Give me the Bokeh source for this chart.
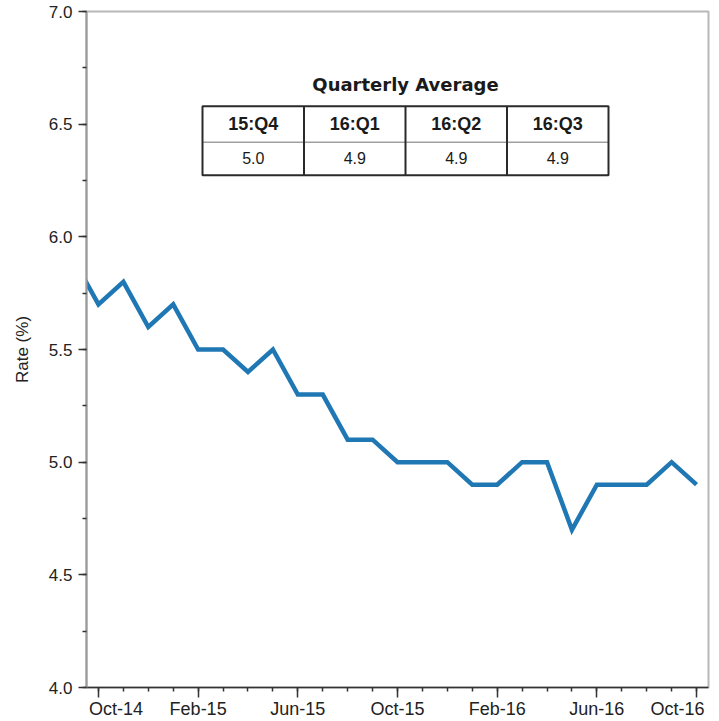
import numpy as np
from bokeh.plotting import figure
from bokeh.models import Range1d, FixedTicker
from bokeh.core.properties import value
from bokeh.embed import file_html
from bokeh.resources import INLINE

# ---------------- data ----------------
months = ["Sep-14", "Oct-14", "Nov-14", "Dec-14", "Jan-15", "Feb-15", "Mar-15",
          "Apr-15", "May-15", "Jun-15", "Jul-15", "Aug-15", "Sep-15", "Oct-15",
          "Nov-15", "Dec-15", "Jan-16", "Feb-16", "Mar-16", "Apr-16", "May-16",
          "Jun-16", "Jul-16", "Aug-16", "Sep-16", "Oct-16"]
rate = [5.9, 5.7, 5.8, 5.6, 5.7, 5.5, 5.5, 5.4, 5.5, 5.3, 5.3, 5.1, 5.1, 5.0,
        5.0, 5.0, 4.9, 4.9, 5.0, 5.0, 4.7, 4.9, 4.9, 4.9, 5.0, 4.9]
tick_months = ["Oct-14", "Feb-15", "Jun-15", "Oct-15", "Feb-16", "Jun-16", "Oct-16"]
y_ticks = [4.0, 4.5, 5.0, 5.5, 6.0, 6.5, 7.0]
quarters = ["15:Q4", "16:Q1", "16:Q2", "16:Q3"]
quarter_avg = [5.0, 4.9, 4.9, 4.9]
table_title = "Quarterly Average"
y_title = "Rate (%)"

# ---------------- layout ----------------
xi = list(range(len(months)))
X0, X1 = 0.52, len(months) - 1 + 0.48
Y0, Y1 = 4.0, 7.0
# frame in page pixels (for placing the inset table)
F_L, F_R, F_T, F_B = 86, 708, 11, 688


def sx(px):
    return X0 + (px - F_L) * (X1 - X0) / (F_R - F_L)


def sy(py):
    return Y1 - (py - F_T) * (Y1 - Y0) / (F_B - F_T)


p = figure(width=719, height=721, output_backend="svg", toolbar_location=None,
           x_range=Range1d(X0, X1), y_range=Range1d(Y0, Y1),
           min_border_left=86, min_border_right=11, min_border_top=11,
           min_border_bottom=32)
p.grid.visible = False
p.outline_line_color = "#b8b8b8"
p.outline_line_width = 2
p.background_fill_color = "white"
p.border_fill_color = "white"

NB = "\u00a0"

# x axis
major_pos = [months.index(m) for m in tick_months]
p.xaxis.ticker = FixedTicker(ticks=major_pos, minor_ticks=xi)
overrides = {i: months[i] for i in major_pos}
# first / last labels are kept inside the frame, as in the original
overrides[major_pos[0]] = NB * 7 + months[major_pos[0]]
overrides[major_pos[-1]] = months[major_pos[-1]] + NB * 3
p.xaxis.major_label_overrides = overrides
p.xaxis.axis_line_color = "#333333"
p.xaxis.axis_line_width = 1.5
p.xaxis.major_tick_line_color = "#333333"
p.xaxis.minor_tick_line_color = "#333333"
p.xaxis.major_tick_line_width = 1.5
p.xaxis.minor_tick_line_width = 1.5
p.xaxis.major_tick_in = 0
p.xaxis.major_tick_out = 10
p.xaxis.minor_tick_in = 0
p.xaxis.minor_tick_out = 4
p.xaxis.major_label_standoff = 1
p.xaxis.major_label_text_font = "Liberation Sans"
p.xaxis.major_label_text_font_size = "18px"
p.xaxis.major_label_text_color = "#222222"

# y axis
p.yaxis.ticker = FixedTicker(ticks=y_ticks,
                             minor_ticks=list(np.arange(4.0, 7.01, 0.25)))
p.yaxis.major_label_overrides = {t: f"{t:.1f}" for t in y_ticks}
p.yaxis.axis_line_color = "#9a9a9a"
p.yaxis.axis_line_width = 2
p.yaxis.major_tick_line_color = "#333333"
p.yaxis.minor_tick_line_color = "#333333"
p.yaxis.major_tick_line_width = 1.5
p.yaxis.minor_tick_line_width = 1.5
p.yaxis.major_tick_in = 0
p.yaxis.major_tick_out = 8
p.yaxis.minor_tick_in = 0
p.yaxis.minor_tick_out = 4
p.yaxis.major_label_standoff = 6
p.yaxis.major_label_text_font = "Liberation Sans"
p.yaxis.major_label_text_font_size = "17px"
p.yaxis.major_label_text_color = "#222222"
p.yaxis.axis_label = y_title
p.yaxis.axis_label_text_font = "Liberation Sans"
p.yaxis.axis_label_text_font_size = "17px"
p.yaxis.axis_label_text_font_style = "normal"
p.yaxis.axis_label_text_color = "#222222"
p.yaxis.axis_label_standoff = 14

# series line
p.line(xi, rate, line_color="#1f77b4", line_width=4.5, line_join="miter")

# ---------------- inset table ----------------
T_L, T_R, T_T, T_M, T_B = 202, 608, 106, 142, 175
edges = np.linspace(T_L, T_R, len(quarters) + 1)
centers = (edges[:-1] + edges[1:]) / 2

p.quad(left=[sx(T_L)], right=[sx(T_R)], top=[sy(T_T)], bottom=[sy(T_B)],
       fill_color="white", line_color=None)
p.segment(x0=[sx(T_L)], y0=[sy(T_M)], x1=[sx(T_R)], y1=[sy(T_M)],
          line_color="#a0a0a0", line_width=1.5)
p.segment(x0=[sx(e) for e in edges[1:-1]], y0=[sy(T_T)] * 3,
          x1=[sx(e) for e in edges[1:-1]], y1=[sy(T_B)] * 3,
          line_color="#2a2a2a", line_width=2)
p.quad(left=[sx(T_L)], right=[sx(T_R)], top=[sy(T_T)], bottom=[sy(T_B)],
       fill_color=None, line_color="#2a2a2a", line_width=2)

p.text(x=[sx(405)], y=[sy(84)], text=[table_title],
       text_font=value("DejaVu Sans"), text_font_style="bold",
       text_font_size=value("18px"), text_align="center",
       text_baseline="middle", text_color="#1a1a1a")
p.text(x=[sx(c) for c in centers], y=[sy(123.5)] * len(quarters), text=quarters,
       text_font=value("Liberation Sans"), text_font_style="bold",
       text_font_size=value("18px"), text_align="center",
       text_baseline="middle", text_color="#1a1a1a")
p.text(x=[sx(c) for c in centers], y=[sy(158)] * len(quarters),
       text=[f"{v:.1f}" for v in quarter_avg],
       text_font=value("Liberation Sans"), text_font_size=value("16px"),
       text_align="center", text_baseline="middle", text_color="#1a1a1a")

open("out.html", "w").write(file_html(p, INLINE))
